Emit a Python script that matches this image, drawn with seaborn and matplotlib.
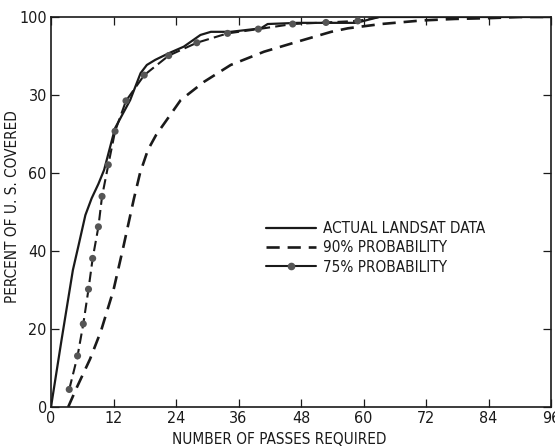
import matplotlib
matplotlib.use("Agg")
import matplotlib.pyplot as plt
import seaborn as sns
import pandas as pd
from matplotlib.lines import Line2D
from matplotlib import font_manager

# ---- data ----
actual_x = [0, 2.0, 4.2, 5.3, 6.6, 7.8, 9.1, 10.2, 11.2, 12.3, 15.2, 17.2, 18.4, 20.0,
            22.6, 25.5, 28.7, 30.7, 34.5, 40.3, 41.6, 47.4, 58.6, 63.0, 96]
actual_y = [0, 17.0, 35.1, 41.5, 49.2, 53.5, 57.2, 60.8, 65.9, 71.5, 78.7, 85.6, 87.7, 89.0,
            90.7, 92.4, 95.4, 96.2, 96.2, 97.1, 98.2, 98.5, 98.5, 100, 100]

p90_x = [3.3, 4.95, 7.5, 9.6, 12.0, 13.9, 15.9, 17.1, 18.6, 20.2, 21.9, 24.9, 29.4, 34.5, 40.9,
         47.4, 53.8, 57.0, 63.4, 71.1, 77.5, 84.0, 90.0, 96]
p90_y = [0, 5.0, 12.3, 19.5, 30.0, 41.1, 53.3, 60.0, 65.9, 69.8, 73.0, 78.7, 83.4, 87.7, 91.1,
         93.7, 96.2, 97.1, 98.2, 99.1, 99.5, 99.7, 100, 100]

p75_x = [3.5, 5.1, 6.2, 7.2, 8.0, 9.1, 9.8, 11.0, 12.3, 14.4, 17.9, 22.6, 28.0,
         33.9, 39.8, 46.4, 52.8, 58.9]
p75_y = [4.5, 13.1, 21.3, 30.2, 38.1, 46.2, 54.0, 62.1, 70.7, 78.5, 85.1, 90.1, 93.4,
         95.8, 96.9, 98.2, 98.6, 99.0]
p75_end_x = [63.0]
p75_end_y = [100]

x_ticks = [0, 12, 24, 36, 48, 60, 72, 84, 96]
y_ticks = [0, 20, 40, 60, 80, 100]
y_tick_labels = ["0", "20", "40", "60", "30", "100"]

labels = ["ACTUAL LANDSAT DATA", "90% PROBABILITY", "75% PROBABILITY"]

# ---- style ----
sns.set_style("ticks")
names = {f.name for f in font_manager.fontManager.ttflist}
if "Liberation Sans Narrow" in names:
    plt.rcParams["font.family"] = ["Liberation Sans Narrow", "DejaVu Sans"]
else:
    plt.rcParams["font.family"] = ["DejaVu Sans"]
    plt.rcParams["font.stretch"] = "condensed"
ink = "#1a1a1a"

fig = plt.figure(figsize=(5.55, 4.46), dpi=100)
ax = fig.add_axes([51 / 555, 39 / 446, 500 / 555, 390 / 446])

df_a = pd.DataFrame({"x": actual_x, "y": actual_y})
df_90 = pd.DataFrame({"x": p90_x, "y": p90_y})
df_75 = pd.DataFrame({"x": p75_x + p75_end_x, "y": p75_y + p75_end_y})
df_75m = pd.DataFrame({"x": p75_x, "y": p75_y})

sns.lineplot(data=df_a, x="x", y="y", ax=ax, sort=False, estimator=None,
             color=ink, linewidth=1.6)
sns.lineplot(data=df_90, x="x", y="y", ax=ax, sort=False, estimator=None,
             color=ink, linewidth=1.9)
ax.lines[-1].set_dashes((5, 3))
sns.lineplot(data=df_75, x="x", y="y", ax=ax, sort=False, estimator=None,
             color=ink, linewidth=1.5)
ax.lines[-1].set_dashes((5, 2.5))
sns.scatterplot(data=df_75m, x="x", y="y", ax=ax, color="#555555", s=26,
                edgecolor="none", zorder=5)

ax.set_xlim(0, 96)
ax.set_ylim(0, 100)
ax.set_xticks(x_ticks)
ax.set_xticklabels([str(v) for v in x_ticks])
ax.set_yticks(y_ticks)
ax.set_yticklabels(y_tick_labels)

ax.tick_params(axis="both", direction="in", length=6, width=0.9, colors=ink,
               labelsize=11.5, top=True, right=True)
ax.tick_params(axis="x", pad=3)
ax.tick_params(axis="y", pad=3)
for s in ax.spines.values():
    s.set_visible(True)
    s.set_linewidth(1.2)
    s.set_color(ink)

ax.set_xlabel("NUMBER OF PASSES REQUIRED", fontsize=11, color=ink)
ax.set_ylabel("PERCENT OF U. S. COVERED", fontsize=11, color=ink)
ax.xaxis.set_label_coords(0.456, -0.064)
ax.yaxis.set_label_coords(-0.062, 0.513)

handles = [
    Line2D([], [], color=ink, linewidth=1.6),
    Line2D([], [], color=ink, linewidth=1.9, dashes=(5, 3)),
    Line2D([], [], color=ink, linewidth=1.5, marker="o", markersize=4.5,
           markerfacecolor="#555555", markeredgecolor="#555555"),
]
leg = ax.legend(handles, labels, loc="center left", bbox_to_anchor=(0.43, 0.408),
                frameon=False, fontsize=11, handlelength=3.3, handletextpad=0.4,
                labelspacing=0.28, borderpad=0, borderaxespad=0, numpoints=1)
for t in leg.get_texts():
    t.set_color(ink)

fig.savefig("out.png", dpi=100)
